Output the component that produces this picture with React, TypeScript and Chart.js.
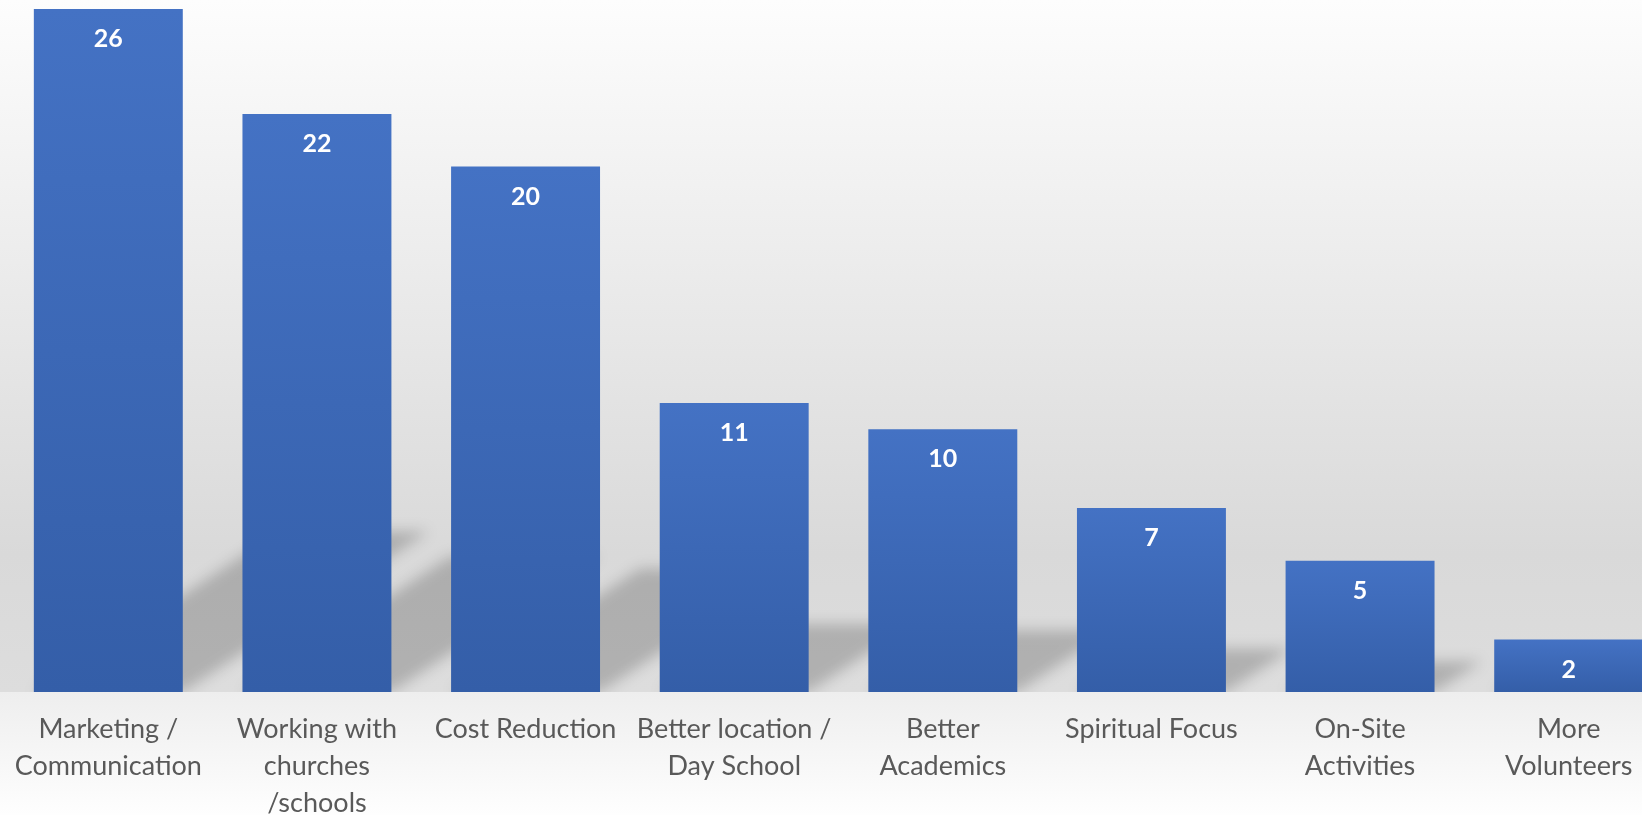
import React, { useEffect, useRef } from "react";
import { Chart, registerables } from "chart.js";

Chart.register(...registerables);

const categories: string[][] = [
  ["Marketing /", "Communication"],
  ["Working with", "churches", "/schools"],
  ["Cost Reduction"],
  ["Better location /", "Day School"],
  ["Better", "Academics"],
  ["Spiritual Focus"],
  ["On-Site", "Activities"],
  ["More", "Volunteers"],
];
const values: number[] = [26, 22, 20, 11, 10, 7, 5, 2];

const FONT = "Lato, 'Open Sans', sans-serif";

const bgPlugin = {
  id: "bgPlugin",
  beforeDraw(chart: any) {
    const { ctx, width, height } = chart;
    const floor = chart.scales.y.getPixelForValue(0);
    ctx.save();
    const g = ctx.createLinearGradient(0, 0, 0, floor);
    g.addColorStop(0, "#fdfdfd");
    g.addColorStop(0.8, "#d9d9d9");
    g.addColorStop(1, "#dddddd");
    ctx.fillStyle = g;
    ctx.fillRect(0, 0, width, floor);
    const g2 = ctx.createLinearGradient(0, floor, 0, height);
    g2.addColorStop(0, "#eeeeee");
    g2.addColorStop(1, "#fefefe");
    ctx.fillStyle = g2;
    ctx.fillRect(0, floor, width, height - floor);
    ctx.restore();
  },
};

const shadowPlugin = {
  id: "shadowPlugin",
  beforeDatasetsDraw(chart: any) {
    const { ctx } = chart;
    const meta = chart.getDatasetMeta(0);
    const a = 0.36;
    const b = 0.235;
    ctx.save();
    ctx.beginPath();
    ctx.rect(0, 0, chart.width, chart.scales.y.getPixelForValue(0));
    ctx.clip();
    ctx.filter = "blur(7px)";
    ctx.fillStyle = "rgba(0,0,0,0.2)";
    meta.data.forEach((el: any) => {
      const { x, y, base, width } = el.getProps(["x", "y", "base", "width"], true);
      const l = x - width / 2;
      const r = x + width / 2;
      const h = base - y;
      ctx.beginPath();
      ctx.moveTo(l, base);
      ctx.lineTo(r, base);
      ctx.lineTo(r + h * a, base - h * b);
      ctx.lineTo(l + h * a, base - h * b);
      ctx.closePath();
      ctx.fill();
    });
    ctx.restore();
  },
  afterDatasetsDraw(chart: any) {
    const { ctx } = chart;
    const meta = chart.getDatasetMeta(0);
    ctx.save();
    ctx.fillStyle = "#ffffff";
    ctx.font = `bold 25px ${FONT}`;
    ctx.textAlign = "center";
    ctx.textBaseline = "middle";
    meta.data.forEach((el: any, i: number) => {
      const { x, y } = el.getProps(["x", "y"], true);
      ctx.fillText(String(values[i]), x, y + 30);
    });
    ctx.restore();
  },
};

export default function App() {
  const ref = useRef<HTMLCanvasElement | null>(null);
  useEffect(() => {
    if (!ref.current) return;
    const chart = new Chart(ref.current, {
      type: "bar",
      data: {
        labels: categories,
        datasets: [
          {
            data: values,
            backgroundColor: (c: any) => {
              const ch = c.chart;
              const ys = ch.scales && ch.scales.y;
              if (!ys || c.raw === undefined) return "#3d68b8";
              const top = ys.getPixelForValue(c.raw);
              const bot = ys.getPixelForValue(0);
              if (!isFinite(top) || !isFinite(bot) || top === bot) return "#3d68b8";
              const g = ch.ctx.createLinearGradient(0, top, 0, bot);
              g.addColorStop(0, "#4472c4");
              g.addColorStop(1, "#345ea8");
              return g;
            },
            borderWidth: 0,
            categoryPercentage: 1,
            barPercentage: 0.714,
          },
        ],
      },
      options: {
        responsive: false,
        animation: false,
        devicePixelRatio: 1,
        layout: { padding: { left: 4, right: 4, top: 9, bottom: 0 } },
        plugins: { legend: { display: false }, tooltip: { enabled: false } },
        scales: {
          x: {
            grid: { display: false },
            border: { display: false },
            ticks: {
              color: "#595959",
              font: { family: FONT, size: 27, lineHeight: 1.36 },
              padding: 11,
              autoSkip: false,
              maxRotation: 0,
              minRotation: 0,
            },
            afterFit: (s: any) => {
              s.height = 123;
            },
          },
          y: { display: false, min: 0, max: 26 },
        },
      },
      plugins: [bgPlugin, shadowPlugin],
    });
    return () => chart.destroy();
  }, []);
  return (
    <div
      style={{
        position: "fixed",
        left: 0,
        top: 0,
        width: 1642,
        height: 815,
        overflow: "hidden",
        background: "#ffffff",
      }}
    >
      <canvas ref={ref} width={1677} height={815} style={{ width: 1677, height: 815, display: "block" }} />
    </div>
  );
}
